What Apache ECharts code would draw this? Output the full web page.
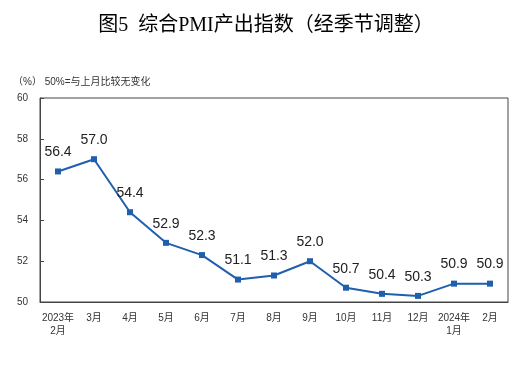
<!DOCTYPE html>
<html><head><meta charset="utf-8">
<script src="https://cdn.jsdelivr.net/npm/echarts@6/dist/echarts.min.js"></script>
<style>html,body{margin:0;padding:0;background:#fff;}#c{width:532px;height:370px;}</style>
</head><body><div id="c"></div>
<script>
var categories = ['2023年\n2月','3月','4月','5月','6月','7月','8月','9月','10月','11月','12月','2024年\n1月','2月'];
var values = [56.4, 57.0, 54.4, 52.9, 52.3, 51.1, 51.3, 52.0, 50.7, 50.4, 50.3, 50.9, 50.9];
var yMin = 50, yMax = 60, yStep = 2;
var titleText = '图5  综合PMI产出指数（经季节调整）';
var unitText = '（%） 50%=与上月比较无变化';

var chart = echarts.init(document.getElementById('c'));
chart.setOption({
  backgroundColor: '#fff',
  animation: false,
  title: [{
    text: titleText, left: 'center', top: 11,
    textStyle: {fontFamily: "'Liberation Serif','Noto Sans CJK SC'", fontSize: 20, fontWeight: 'normal', color: '#000'}
  }, {
    text: unitText, left: 8, top: 72,
    textStyle: {fontFamily: "'Liberation Sans','Noto Sans CJK SC'", fontSize: 10, fontWeight: 'normal', color: '#333'}
  }],
  grid: {left: 40, right: 24, top: 98, bottom: 68, show: true, borderColor: '#444', borderWidth: 1},
  xAxis: {
    type: 'category', data: categories, boundaryGap: true,
    axisLine: {lineStyle: {color: '#444', width: 1}},
    axisTick: {inside: true, length: 4, lineStyle: {color: '#444'}},
    axisLabel: {fontSize: 10, color: '#333', margin: 10, lineHeight: 13, fontFamily: "'Liberation Sans','Noto Sans CJK SC'", interval: 0}
  },
  yAxis: {
    type: 'value', min: yMin, max: yMax, interval: yStep,
    axisLine: {show: true, lineStyle: {color: '#444', width: 1}},
    axisTick: {show: true, inside: true, length: 4, lineStyle: {color: '#444'}},
    splitLine: {show: false},
    axisLabel: {fontSize: 10, color: '#333', margin: 12, fontFamily: "'Liberation Sans'"}
  },
  series: [{
    type: 'line', data: values,
    symbol: 'rect', symbolSize: 6,
    lineStyle: {color: '#1f5fae', width: 2},
    itemStyle: {color: '#1f5fae'},
    label: {show: true, position: 'top', distance: 9, fontSize: 14, color: '#222',
      fontFamily: "'Liberation Sans'", formatter: function(p){return p.value.toFixed(1);}}
  }]
});
</script></body></html>
